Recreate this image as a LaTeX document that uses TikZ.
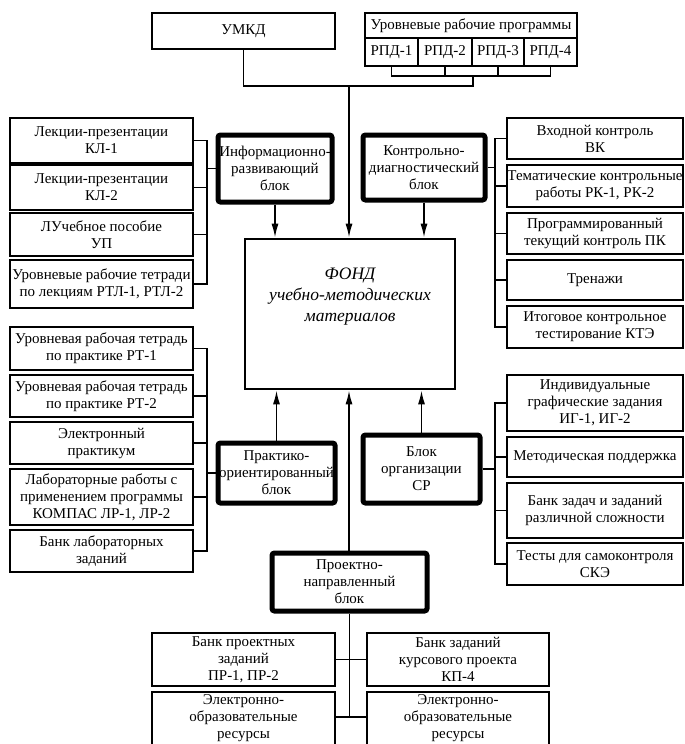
\documentclass[tikz,border=0pt]{standalone}
\usepackage{fontspec}
\setmainfont{Liberation Serif}
\usetikzlibrary{arrows.meta}
\tikzset{
  box/.style={draw, line width=2.6pt, inner sep=0pt, align=center, font=\fontsize{15}{17}\selectfont},
  blk/.style={draw, line width=5pt, rounded corners=2.5pt, inner sep=0pt, align=center, font=\fontsize{15}{17}\selectfont},
  fondbox/.style={draw, line width=2.6pt, inner sep=0pt},
  plain/.style={inner sep=0pt, align=center, font=\fontsize{15}{17}\selectfont},
  conn/.style={line width=1.7pt},
  arr/.style={line width=1.7pt, -{Latex[length=14pt,width=7pt]}},
}
\newcommand\bx[7][box]{\node[#1, minimum width={(#5-#3)*1pt}, minimum height={(#6-#4)*1pt}] (#2) at ({(#3+#5)/2},{(#4+#6)/2}) {#7};}
\begin{document}
\begin{tikzpicture}[x=1pt,y=-1pt]
\useasboundingbox[fill=white] (0,0) rectangle (685,744);
% top
\bx{umkd}{152}{13}{335}{49}{УМКД}
\bx{urp}{365}{13}{577}{38}{Уровневые рабочие программы}
\bx{p1}{365}{38}{418}{66}{РПД-1}
\bx{p2}{418}{38}{472}{66}{РПД-2}
\bx{p3}{472}{38}{524}{66}{РПД-3}
\bx{p4}{524}{38}{577}{66}{РПД-4}
% fond
\bx[fondbox]{fond}{245}{239}{455}{389}{}
\node[font=\fontsize{17.5}{21}\selectfont\itshape, align=center, anchor=north, inner sep=0pt] (fondt) at (350,268) {ФОНД\\учебно-методических\\материалов};
% blocks
\bx[blk]{info}{218}{135}{332}{202}{Информационно-\\развивающий\\блок}
\bx[blk]{ctrl}{363}{135}{485}{200}{Контрольно-\\диагностический\\блок}
\bx[blk]{prac}{218}{443}{335}{503}{Практико-\\ориентированный\\блок}
\bx[blk]{sr}{363}{435}{480}{503}{Блок\\организации\\СР}
\bx[blk]{proj}{272}{553}{427}{611}{Проектно-\\направленный\\блок}
% left top list
\bx{la1}{10}{118}{193}{163}{Лекции-презентации\\КЛ-1}
\bx{la2}{10}{165}{193}{210}{Лекции-презентации\\КЛ-2}
\bx{la3}{10}{213}{193}{256}{ЛУчебное пособие\\УП}
\bx{la4}{10}{260}{193}{308}{Уровневые рабочие тетради\\по лекциям РТЛ-1, РТЛ-2}
% right top list
\bx{ra1}{507}{118}{683}{159}{Входной контроль\\ВК}
\bx{ra2}{507}{165}{683}{207}{Тематические контрольные\\работы РК-1, РК-2}
\bx{ra3}{507}{213}{683}{254}{Программированный\\текущий контроль ПК}
\bx{ra4}{507}{260}{683}{300}{Тренажи}
\bx{ra5}{507}{306}{683}{348}{Итоговое контрольное\\тестирование КТЭ}
% left bottom list
\bx{lb1}{10}{327}{193}{370}{Уровневая рабочая тетрадь\\по практике РТ-1}
\bx{lb2}{10}{375}{193}{417}{Уровневая рабочая тетрадь\\по практике РТ-2}
\bx{lb3}{10}{422}{193}{464}{Электронный\\практикум}
\bx{lb4}{10}{469}{193}{525}{Лабораторные работы с\\применением программы\\КОМПАС ЛР-1, ЛР-2}
\bx{lb5}{10}{530}{193}{572}{Банк лабораторных\\заданий}
% right bottom list
\bx{rb1}{507}{375}{683}{431}{Индивидуальные\\графические задания\\ИГ-1, ИГ-2}
\bx{rb2}{507}{437}{683}{477}{Методическая поддержка}
\bx{rb3}{507}{483}{683}{538}{Банк задач и заданий\\различной сложности}
\bx{rb4}{507}{543}{683}{585}{Тесты для самоконтроля\\СКЭ}
% bottom
\bx{bb1}{152}{633}{335}{686}{Банк проектных\\заданий\\ПР-1, ПР-2}
\bx{bb2}{367}{633}{549}{686}{Банк заданий\\курсового проекта\\КП-4}
\bx{bb3}{152}{692}{335}{752}{}
\bx{bb4}{367}{692}{549}{752}{}
\node[plain] (bb3t) at (243.5,718) {Электронно-\\образовательные\\ресурсы};
\node[plain] (bb4t) at (458,718) {Электронно-\\образовательные\\ресурсы};
% bus coordinates
\coordinate (rb) at (0,76);
\coordinate (jb) at (349,86);
\coordinate (lbus) at (207,0);
\coordinate (rbus) at (495,0);
% top connectors
\draw[conn] (p1.south) -- (p1.south |- rb) -- (p4.south |- rb) -- (p4.south);
\draw[conn] (p2.south) -- (p2.south |- rb);
\draw[conn] (p3.south) -- (p3.south |- rb);
\draw[conn] (p2.south east |- rb) -- (p2.south east |- jb) -- (umkd.south |- jb) -- (umkd.south);
\draw[arr] (jb) -- (jb |- fond.north);
\draw[arr] (info.south) -- (info.south |- fond.north);
\draw[arr] (ctrl.south) -- (ctrl.south |- fond.north);
% bottom arrows
\draw[arr] (prac.north) -- (prac.north |- fond.south);
\draw[arr] (sr.north) -- (sr.north |- fond.south);
\draw[arr] (proj.north -| jb) -- (jb |- fond.south);
% left top bus
\draw[conn] (la1.east) -- (la1.east -| lbus) -- (la4.east -| lbus) -- (la4.east);
\draw[conn] (la2.east) -- (la2.east -| lbus);
\draw[conn] (la3.east) -- (la3.east -| lbus);
\draw[conn] (info.west -| lbus) -- (info.west);
% right top bus
\draw[conn] (ra1.west) -- (ra1.west -| rbus) -- (ra5.west -| rbus) -- (ra5.west);
\draw[conn] (ra2.west) -- (ra2.west -| rbus);
\draw[conn] (ra3.west) -- (ra3.west -| rbus);
\draw[conn] (ra4.west) -- (ra4.west -| rbus);
\draw[conn] (ctrl.east) -- (ctrl.east -| rbus);
% left bottom bus
\draw[conn] (lb1.east) -- (lb1.east -| lbus) -- (lb5.east -| lbus) -- (lb5.east);
\draw[conn] (lb2.east) -- (lb2.east -| lbus);
\draw[conn] (lb3.east) -- (lb3.east -| lbus);
\draw[conn] (lb4.east) -- (lb4.east -| lbus);
\draw[conn] (prac.west -| lbus) -- (prac.west);
% right bottom bus
\draw[conn] (rb1.west) -- (rb1.west -| rbus) -- (rb4.west -| rbus) -- (rb4.west);
\draw[conn] (rb2.west) -- (rb2.west -| rbus);
\draw[conn] (rb3.west) -- (rb3.west -| rbus);
\draw[conn] (sr.east) -- (sr.east -| rbus);
% bottom tree
\coordinate (bt) at (350,717);
\draw[conn] (proj.south) -- (proj.south |- bt);
\draw[conn] (bb1.east) -- (bb2.west);
\draw[conn] (bb3.east |- bt) -- (bb4.west |- bt);
\end{tikzpicture}
\end{document}
